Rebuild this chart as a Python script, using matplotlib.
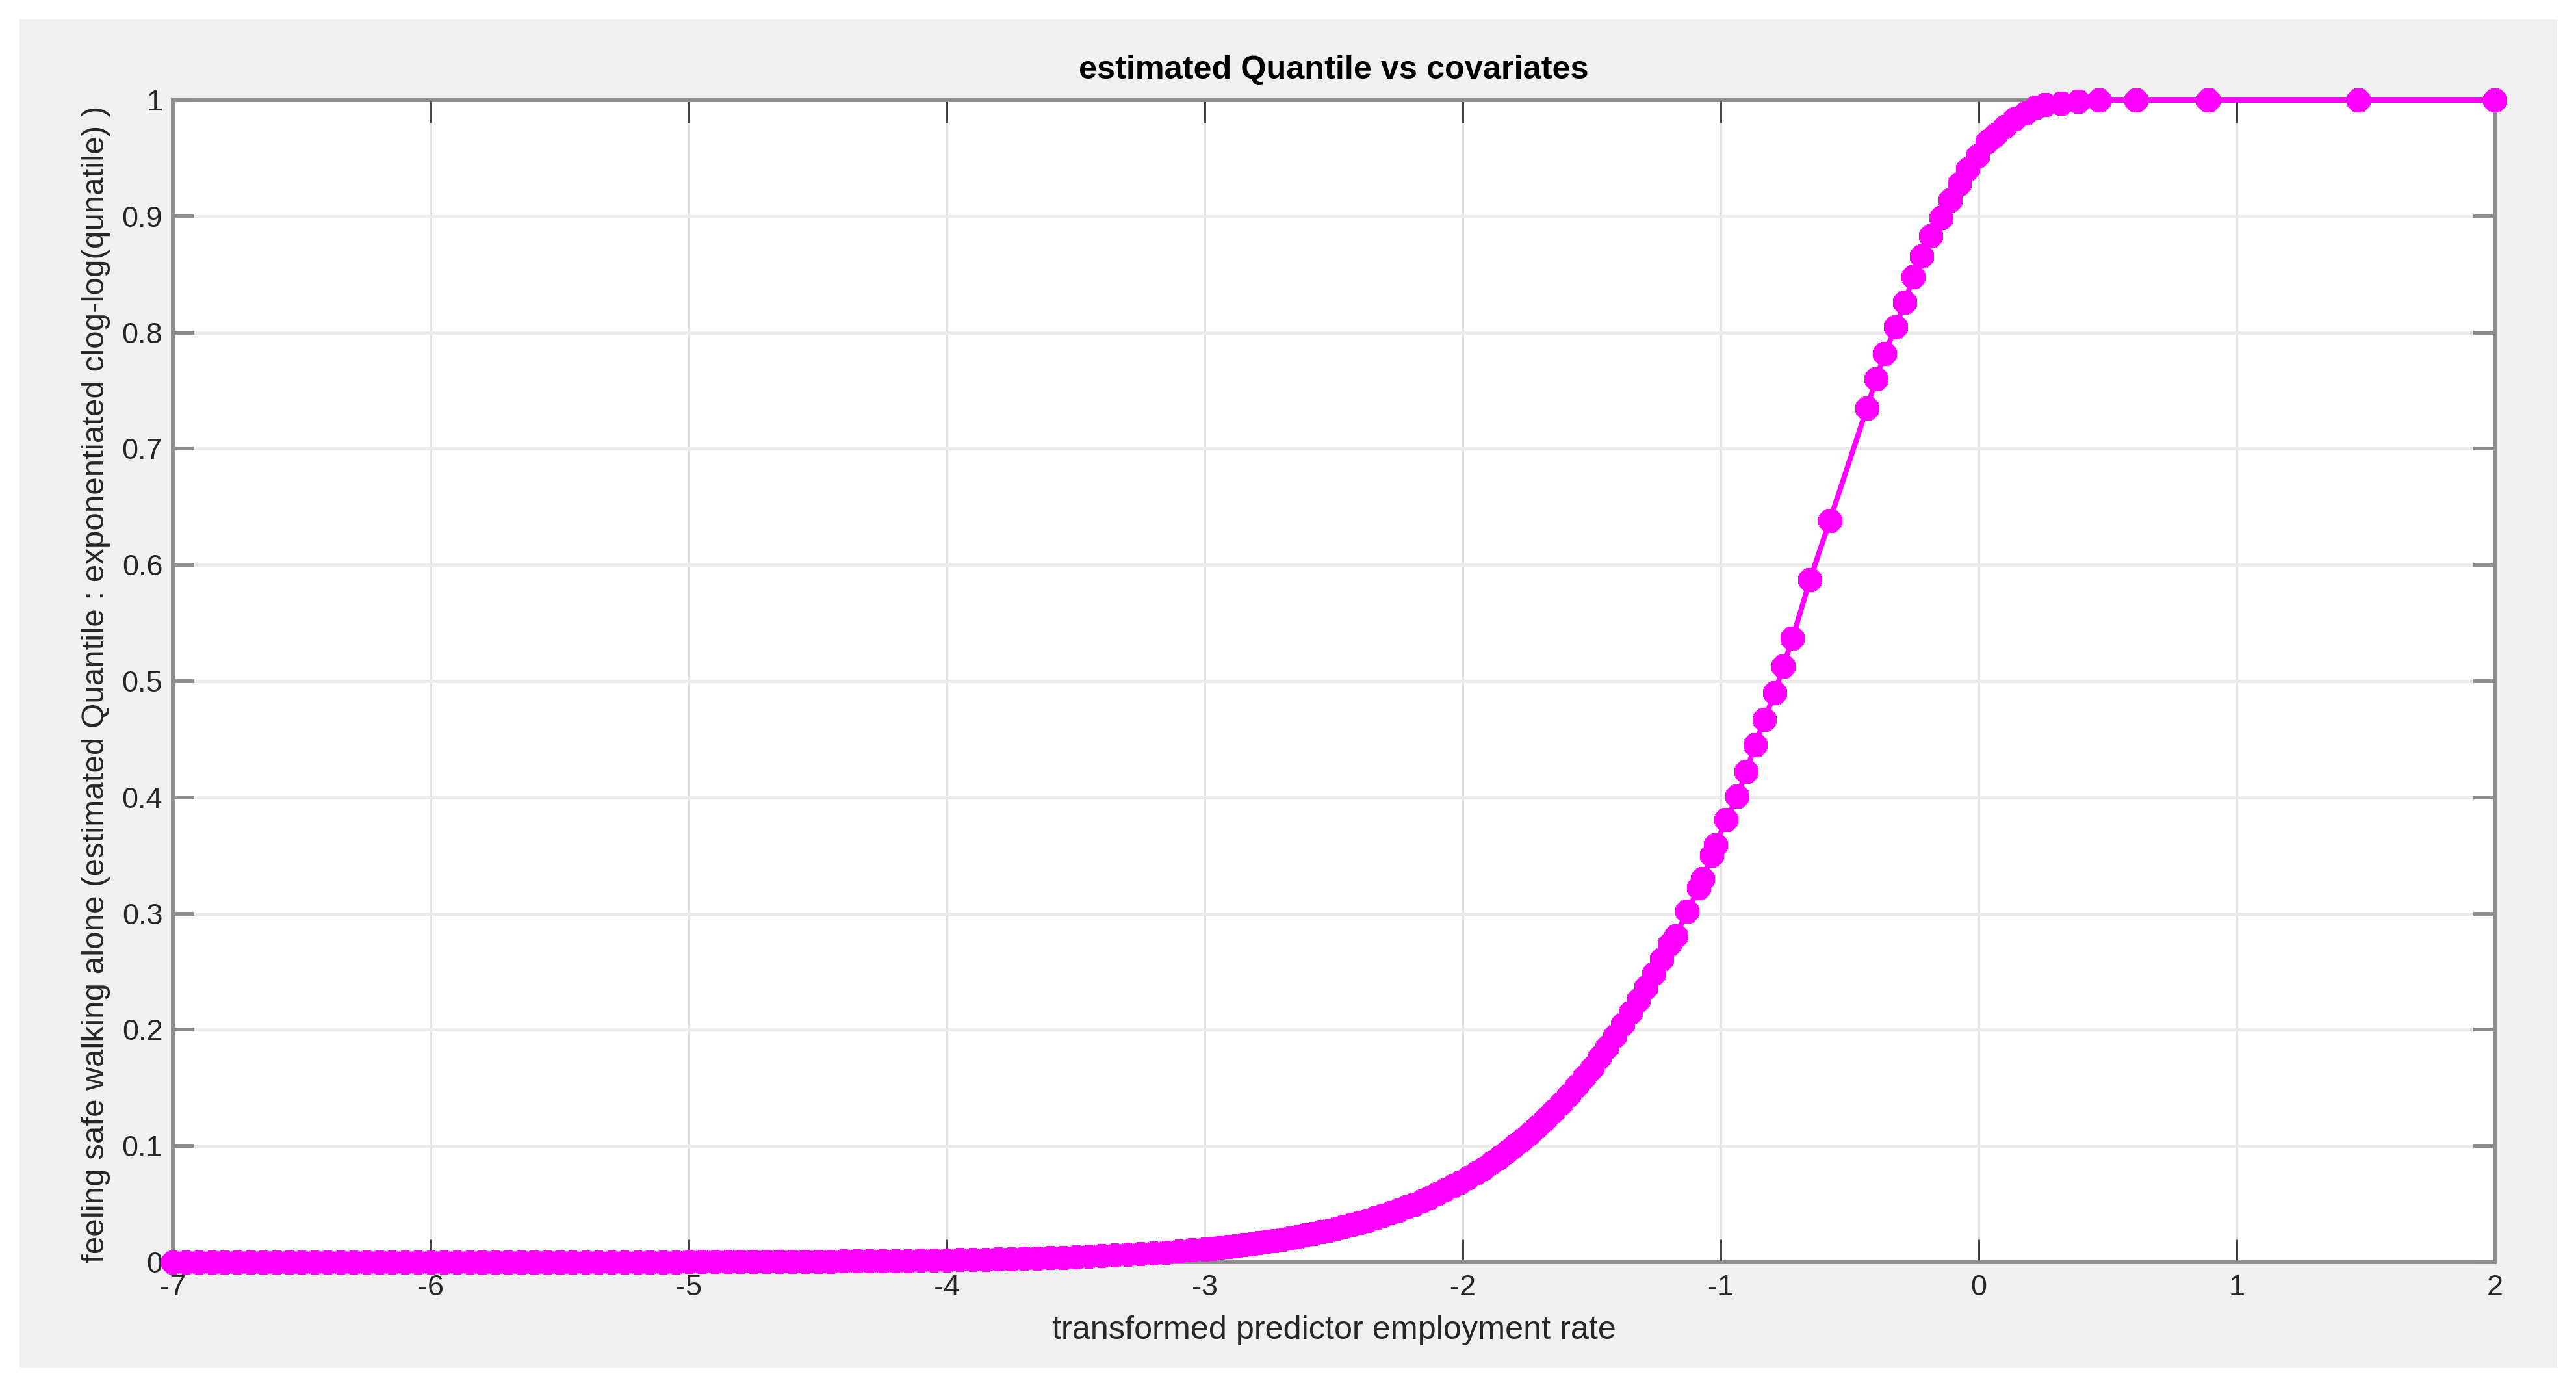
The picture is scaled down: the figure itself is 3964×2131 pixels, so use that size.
import matplotlib
matplotlib.use("Agg")
import matplotlib.pyplot as plt
from matplotlib.patches import Rectangle
import numpy as np

plt.rcParams["font.family"] = ["Liberation Sans", "DejaVu Sans"]
plt.rcParams["axes.unicode_minus"] = False

# flat tail (covariate values far below the bulk), quantile ~ 0
x_tail = [
    -7.00, -6.95, -6.90, -6.85, -6.80, -6.75, -6.70, -6.65, -6.60, -6.55,
    -6.50, -6.45, -6.40, -6.35, -6.30, -6.25, -6.20, -6.15, -6.10, -6.05,
    -6.00, -5.95, -5.90, -5.85, -5.80, -5.75, -5.70, -5.65, -5.60, -5.55,
    -5.50, -5.45, -5.40, -5.35, -5.30, -5.25, -5.20, -5.15, -5.10, -5.05,
    -5.00, -4.95, -4.90, -4.85, -4.80, -4.75, -4.70, -4.65, -4.60, -4.55,
    -4.50, -4.45, -4.40, -4.35, -4.30, -4.25, -4.20, -4.15, -4.10, -4.05,
    -4.00, -3.95, -3.90, -3.85, -3.80, -3.75, -3.70, -3.65, -3.60, -3.55,
    -3.50, -3.45, -3.40, -3.35, -3.30, -3.25, -3.20, -3.15, -3.10, -3.05,
]
y_tail = [
    0.00001, 0.00001, 0.00001, 0.00001, 0.00001, 0.00001, 0.00001, 0.00001, 0.00001, 0.00002,
    0.00002, 0.00002, 0.00002, 0.00002, 0.00003, 0.00003, 0.00003, 0.00003, 0.00004, 0.00004,
    0.00004, 0.00005, 0.00005, 0.00006, 0.00006, 0.00007, 0.00008, 0.00008, 0.00009, 0.00010,
    0.00011, 0.00012, 0.00013, 0.00015, 0.00016, 0.00018, 0.00020, 0.00021, 0.00023, 0.00026,
    0.00028, 0.00031, 0.00034, 0.00037, 0.00041, 0.00045, 0.00049, 0.00054, 0.00059, 0.00065,
    0.00071, 0.00078, 0.00086, 0.00094, 0.00103, 0.00113, 0.00124, 0.00136, 0.00149, 0.00164,
    0.00180, 0.00197, 0.00216, 0.00237, 0.00260, 0.00285, 0.00313, 0.00343, 0.00376, 0.00413,
    0.00452, 0.00496, 0.00544, 0.00596, 0.00653, 0.00716, 0.00785, 0.00861, 0.00944, 0.01039,
]

# dense lower bend
x_rise = [
    -3.00, -2.97, -2.94, -2.91, -2.88, -2.85, -2.82, -2.79, -2.76, -2.73,
    -2.70, -2.67, -2.64, -2.61, -2.58, -2.55, -2.52, -2.49, -2.46, -2.43,
    -2.40, -2.37, -2.34, -2.31, -2.28, -2.25, -2.22, -2.19, -2.16, -2.13,
    -2.10, -2.07, -2.04, -2.01, -1.98, -1.95, -1.92, -1.89, -1.86, -1.83,
    -1.80, -1.77, -1.74, -1.71, -1.68, -1.65, -1.62, -1.59, -1.56, -1.53,
    -1.50, -1.47, -1.44, -1.41, -1.38, -1.35, -1.32, -1.29, -1.26, -1.23,
    -1.20,
]
y_rise = [
    0.0114, 0.0120, 0.0127, 0.0134, 0.0142, 0.0150, 0.0158, 0.0167, 0.0177, 0.0187,
    0.0197, 0.0209, 0.0220, 0.0233, 0.0246, 0.0260, 0.0274, 0.0290, 0.0306, 0.0323,
    0.0341, 0.0360, 0.0380, 0.0402, 0.0424, 0.0448, 0.0473, 0.0499, 0.0527, 0.0556,
    0.0587, 0.0619, 0.0653, 0.0689, 0.0727, 0.0767, 0.0808, 0.0853, 0.0899, 0.0948,
    0.0999, 0.1053, 0.1109, 0.1169, 0.1231, 0.1297, 0.1365, 0.1437, 0.1513, 0.1592,
    0.1675, 0.1761, 0.1852, 0.1946, 0.2045, 0.2148, 0.2256, 0.2368, 0.2485, 0.2606,
    0.2733,
]

# sparse steep part and upper plateau
x_upper = [
    -1.175, -1.130, -1.085, -1.070, -1.035, -1.020, -0.980, -0.936, -0.902, -0.867,
    -0.832, -0.790, -0.758, -0.722, -0.655, -0.578, -0.434, -0.398, -0.365, -0.322,
    -0.287, -0.255, -0.222, -0.187, -0.146, -0.111, -0.076, -0.043, -0.005, 0.033,
    0.063, 0.100, 0.139, 0.181, 0.222, 0.257, 0.320, 0.385, 0.466, 0.610,
    0.890, 1.470, 2.000,
]
y_upper = [
    0.281, 0.302, 0.322, 0.330, 0.350, 0.359, 0.381, 0.401, 0.422, 0.445,
    0.467, 0.490, 0.513, 0.537, 0.587, 0.638, 0.735, 0.760, 0.782, 0.805,
    0.826, 0.848, 0.866, 0.883, 0.899, 0.914, 0.928, 0.941, 0.952, 0.964,
    0.970, 0.977, 0.984, 0.989, 0.994, 0.996, 0.997, 0.999, 1.000, 1.000,
    1.000, 1.000, 1.000,
]

x_ticks = [-7, -6, -5, -4, -3, -2, -1, 0, 1, 2]
y_ticks = [0, 0.1, 0.2, 0.3, 0.4, 0.5, 0.6, 0.7, 0.8, 0.9, 1]
y_tick_labels = ["0", "0.1", "0.2", "0.3", "0.4", "0.5", "0.6", "0.7", "0.8", "0.9", "1"]

x = np.array(x_tail + x_rise + x_upper)
y = np.array(y_tail + y_rise + y_upper)

fig = plt.figure(figsize=(15.856, 8.524), dpi=250, facecolor="white")
fig.add_artist(Rectangle((0.0076, 0.0122), 0.9851, 0.9737, transform=fig.transFigure,
                         facecolor="#f0f0f0", edgecolor="none", zorder=-10))

ax = fig.add_axes([0.0671, 0.0887, 0.9014, 0.839])
ax.set_facecolor("white")

ax.plot(x, y, color="#ff00ff", linewidth=2.3, marker=(8, 2, 0), markersize=10.5,
        markeredgewidth=3.8, markeredgecolor="#ff00ff", clip_on=False, zorder=5)

ax.set_xlim(-7, 2)
ax.set_ylim(0, 1)
ax.set_xticks(x_ticks)
ax.set_xticklabels([str(t) for t in x_ticks])
ax.set_yticks(y_ticks)
ax.set_yticklabels(y_tick_labels)

ax.set_axisbelow(True)
ax.yaxis.grid(True, color="#ebebeb", linewidth=1.4)
ax.xaxis.grid(True, color="#dcdcdc", linewidth=0.8)

for side in ["left", "right", "top", "bottom"]:
    ax.spines[side].set_color("#8c8c8c")
    ax.spines[side].set_linewidth(1.7)

ax.tick_params(axis="x", direction="in", length=10, width=0.8, color="#333333",
               top=True, bottom=True, labelsize=13, labelcolor="#262626", pad=5.5)
ax.tick_params(axis="y", direction="in", length=9.5, width=1.7, color="#8c8c8c",
               left=True, right=True, labelsize=13, labelcolor="#262626", pad=4.5)

fig.text(0.5178, 0.9493, "estimated Quantile vs covariates", ha="center", va="center",
         fontsize=14.5, fontweight="bold", color="black")
fig.text(0.5178, 0.0394, "transformed predictor employment rate", ha="center", va="center",
         fontsize=14.5, color="#262626")
fig.text(0.0371, 0.506,
         "feeling safe walking alone (estimated Quantile : exponentiated clog-log(qunatile) )",
         ha="center", va="center", rotation=90, fontsize=14.2, color="#262626")

fig.savefig("out.png", dpi=250, facecolor="white")
